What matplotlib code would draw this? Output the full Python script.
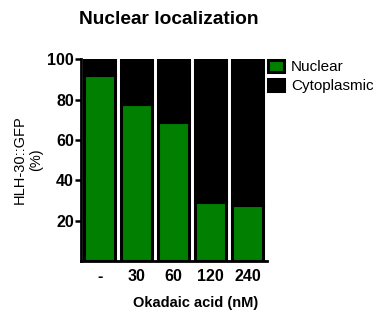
import matplotlib
matplotlib.use("Agg")
import matplotlib.pyplot as plt
import numpy as np

plt.rcParams['font.family'] = ['Liberation Sans', 'DejaVu Sans']

# data
doses = ['-', '30', '60', '120', '240']
nuclear = [92, 78, 69, 29, 28]
cytoplasmic = [100 - v for v in nuclear]

GREEN = '#007f00'

fig = plt.figure(figsize=(3.77, 3.13), dpi=100)
ax = fig.add_axes([0.215, 0.166, 0.493, 0.645])

x = np.arange(len(doses))
ax.bar(x, nuclear, width=0.84, color=GREEN, edgecolor='black', linewidth=2.2, label='Nuclear', zorder=3)
ax.bar(x, cytoplasmic, bottom=nuclear, width=0.84, color='black', edgecolor='black', linewidth=2.2,
       label='Cytoplasmic', zorder=3)

ax.set_xlim(-0.51, 4.52)
ax.set_ylim(0, 100)
ax.set_yticks([20, 40, 60, 80, 100])
ax.set_xticks(x)
ax.set_xticklabels(doses)
ax.tick_params(axis='x', length=0, pad=6)
ax.tick_params(axis='y', length=4, width=1.8, pad=1)
for lbl in ax.get_xticklabels() + ax.get_yticklabels():
    lbl.set_fontweight('bold')
    lbl.set_fontsize(11.5)

for s in ['top', 'right']:
    ax.spines[s].set_visible(False)
for s in ['left', 'bottom']:
    ax.spines[s].set_linewidth(2)

ax.set_ylabel('HLH-30::GFP\n(%)', fontsize=10.5, labelpad=3)
fig.text(196 / 377, 1 - 303 / 313, 'Okadaic acid (nM)', fontsize=10.5, fontweight='bold',
         ha='center', va='center')
fig.text(168.5 / 377, 1 - 20 / 313, 'Nuclear localization', fontsize=13.8, fontweight='bold',
         ha='center', va='center')

leg = ax.legend(loc='upper left', bbox_to_anchor=(1.005, 0.995), frameon=False, fontsize=11,
                handlelength=1.05, handleheight=0.8, handletextpad=0.45, labelspacing=0.3,
                borderaxespad=0, borderpad=0)

fig.savefig('out.png', dpi=100)
